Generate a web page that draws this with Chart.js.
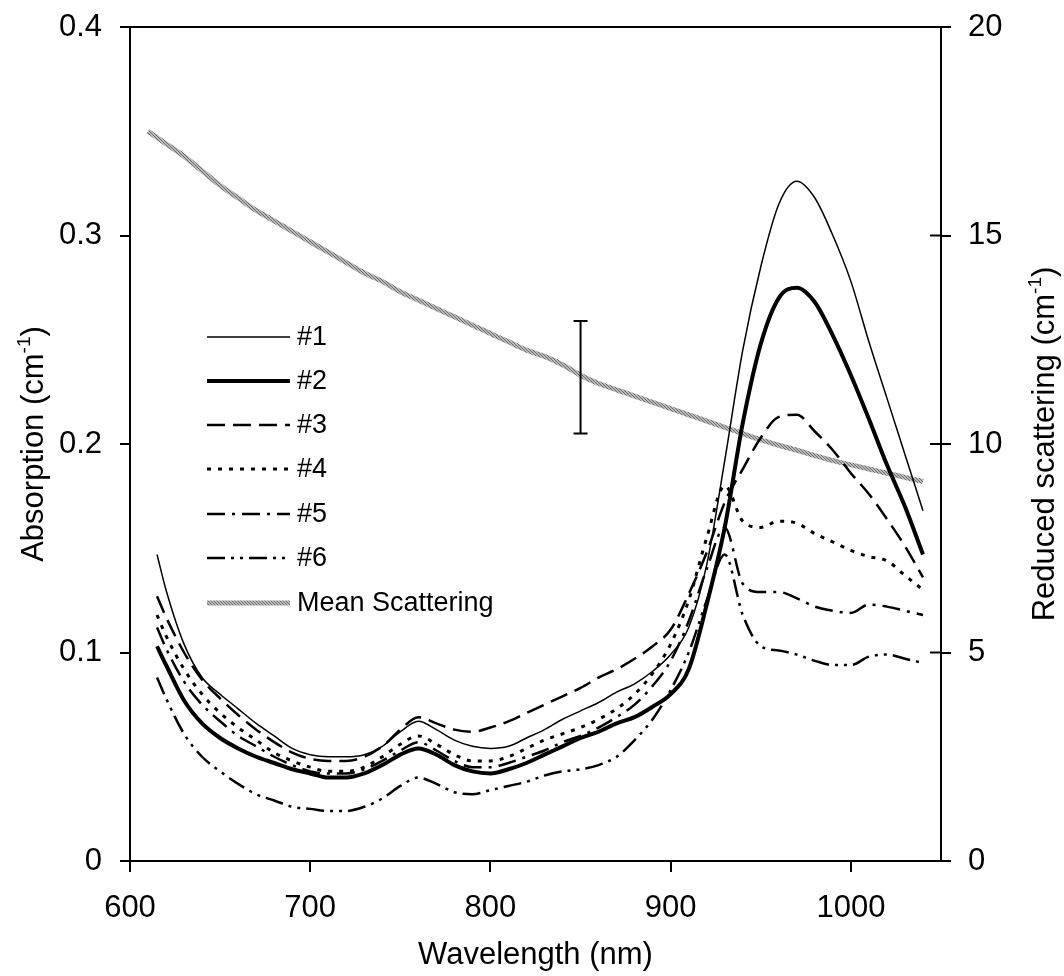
<!DOCTYPE html>
<html>
<head>
<meta charset="utf-8">
<script src="https://cdn.jsdelivr.net/npm/chart.js@4.4.0/dist/chart.umd.min.js"></script>
<style>
body { margin: 0; background: #fff; }
canvas { display: block; }
</style>
</head>
<body>
<canvas id="chart" width="1064" height="976"></canvas>
<script>
// absorption spectra, nm
const wavelengths = [615, 620, 630, 640, 650, 660, 670, 680, 690, 700, 710, 720, 730, 740, 750,
    760, 770, 780, 790, 800, 810, 820, 830, 840, 850, 860, 870, 880, 890, 900, 910, 920, 930,
    940, 950, 960, 970, 980, 990, 1000, 1010, 1020, 1030, 1040];

const abs1 = [0.147, 0.130, 0.104, 0.088, 0.080, 0.073, 0.066, 0.060, 0.054, 0.051, 0.050, 0.050,
    0.051, 0.055, 0.062, 0.067, 0.063, 0.058, 0.055, 0.054, 0.055, 0.059, 0.063, 0.068, 0.072,
    0.076, 0.081, 0.085, 0.091, 0.099, 0.112, 0.142, 0.192, 0.245, 0.285, 0.315, 0.326, 0.318,
    0.300, 0.278, 0.249, 0.222, 0.195, 0.168];
const abs2 = [0.103, 0.094, 0.077, 0.066, 0.059, 0.054, 0.050, 0.047, 0.044, 0.042, 0.040, 0.040,
    0.042, 0.046, 0.051, 0.054, 0.051, 0.046, 0.043, 0.042, 0.044, 0.047, 0.051, 0.055, 0.059,
    0.062, 0.066, 0.069, 0.074, 0.080, 0.092, 0.123, 0.160, 0.210, 0.248, 0.270, 0.275, 0.268,
    0.252, 0.233, 0.212, 0.190, 0.170, 0.147];
const abs3 = [0.127, 0.117, 0.100, 0.087, 0.078, 0.070, 0.063, 0.057, 0.052, 0.049, 0.048, 0.048,
    0.050, 0.055, 0.063, 0.069, 0.066, 0.063, 0.062, 0.064, 0.067, 0.071, 0.075, 0.079, 0.083,
    0.088, 0.092, 0.097, 0.103, 0.111, 0.128, 0.148, 0.172, 0.188, 0.203, 0.213, 0.214, 0.206,
    0.197, 0.186, 0.176, 0.164, 0.151, 0.136];
const abs4 = [0.118, 0.108, 0.092, 0.080, 0.071, 0.064, 0.058, 0.052, 0.048, 0.045, 0.043, 0.043,
    0.045, 0.050, 0.056, 0.060, 0.056, 0.051, 0.048, 0.048, 0.050, 0.054, 0.058, 0.061, 0.064,
    0.068, 0.073, 0.080, 0.090, 0.104, 0.125, 0.155, 0.180, 0.163, 0.160, 0.163, 0.162, 0.157,
    0.153, 0.149, 0.146, 0.144, 0.137, 0.130];
const abs5 = [0.112, 0.102, 0.086, 0.075, 0.067, 0.060, 0.055, 0.050, 0.046, 0.043, 0.042, 0.042,
    0.044, 0.048, 0.053, 0.057, 0.053, 0.048, 0.045, 0.045, 0.047, 0.050, 0.053, 0.057, 0.060,
    0.064, 0.069, 0.075, 0.084, 0.096, 0.115, 0.140, 0.160, 0.133, 0.129, 0.129, 0.126, 0.122,
    0.120, 0.119, 0.123, 0.122, 0.120, 0.118];
const abs6 = [0.088, 0.078, 0.061, 0.050, 0.043, 0.037, 0.032, 0.029, 0.026, 0.025, 0.024, 0.024,
    0.026, 0.030, 0.036, 0.040, 0.037, 0.033, 0.032, 0.034, 0.036, 0.038, 0.041, 0.043, 0.044,
    0.046, 0.050, 0.058, 0.068, 0.082, 0.100, 0.125, 0.147, 0.118, 0.103, 0.101, 0.099, 0.096,
    0.094, 0.094, 0.098, 0.099, 0.097, 0.095];

// mean reduced scattering, right axis
const scatWavelengths = [610, 620, 630, 640, 650, 660, 670, 680, 690, 700, 710, 720, 730, 740,
    750, 760, 770, 780, 790, 800, 810, 820, 830, 840, 850, 860, 870, 880, 890, 900, 910, 920,
    930, 940, 950, 960, 970, 980, 990, 1000, 1010, 1020, 1030, 1040];
const meanScattering = [17.5, 17.2, 16.9, 16.55, 16.2, 15.9, 15.6, 15.35, 15.1, 14.85, 14.6,
    14.35, 14.1, 13.9, 13.65, 13.45, 13.25, 13.05, 12.85, 12.65, 12.45, 12.25, 12.1, 11.9, 11.65,
    11.45, 11.3, 11.15, 11.0, 10.85, 10.7, 10.55, 10.4, 10.25, 10.1, 9.97, 9.85, 9.72, 9.6, 9.5,
    9.4, 9.3, 9.2, 9.1];

// error bar on the scattering
const errWavelength = 850;
const errLow = 10.25;
const errHigh = 12.95;

const seriesNames = ["#1", "#2", "#3", "#4", "#5", "#6", "Mean Scattering"];

const FONT = "'Liberation Sans', Arial, sans-serif";

// grey textured stroke for the scattering line
const pc = document.createElement("canvas");
pc.width = 3;
pc.height = 3;
const pctx = pc.getContext("2d");
pctx.fillStyle = "#bababa";
pctx.fillRect(0, 0, 3, 3);
pctx.fillStyle = "#6e6e6e";
pctx.fillRect(0, 0, 1, 1);
pctx.fillRect(1, 1, 1, 1);
pctx.fillRect(2, 2, 1, 1);
const scatPattern = pctx.createPattern(pc, "repeat");

const styles = [
    { width: 1.5, dash: [] },
    { width: 4, dash: [] },
    { width: 2.5, dash: [18, 8] },
    { width: 3, dash: [4, 7] },
    { width: 2.5, dash: [18, 7, 3, 7] },
    { width: 2.5, dash: [18, 6, 3, 6, 3, 6] }
];

const absSeries = [abs1, abs2, abs3, abs4, abs5, abs6];

const datasets = absSeries.map((vals, i) => ({
    label: seriesNames[i],
    data: wavelengths.map((w, j) => ({ x: w, y: vals[j] })),
    yAxisID: "y",
    borderColor: "#000",
    borderWidth: styles[i].width,
    borderDash: styles[i].dash,
    pointRadius: 0,
    cubicInterpolationMode: "monotone",
    fill: false,
    order: 1
}));

datasets.push({
    label: seriesNames[6],
    data: scatWavelengths.map((w, j) => ({ x: w, y: meanScattering[j] })),
    yAxisID: "y2",
    borderColor: scatPattern,
    borderWidth: 5,
    pointRadius: 0,
    tension: 0.3,
    fill: false,
    order: 2
});

function drawTitle(ctx, cx, cy, rot, main, sup, tail, size) {
    ctx.save();
    ctx.translate(cx, cy);
    ctx.rotate(rot);
    ctx.fillStyle = "#000";
    ctx.textBaseline = "alphabetic";
    ctx.textAlign = "left";
    const f = size + "px " + FONT;
    const fs = Math.round(size * 0.6) + "px " + FONT;
    ctx.font = f;
    const w1 = ctx.measureText(main).width;
    const w3 = tail ? ctx.measureText(tail).width : 0;
    ctx.font = fs;
    const w2 = sup ? ctx.measureText(sup).width : 0;
    let x = -(w1 + w2 + w3) / 2;
    const base = size * 0.36;
    ctx.font = f;
    ctx.fillText(main, x, base);
    x += w1;
    if (sup) {
        ctx.font = fs;
        ctx.fillText(sup, x, base - size * 0.42);
        x += w2;
    }
    if (tail) {
        ctx.font = f;
        ctx.fillText(tail, x, base);
    }
    ctx.restore();
}

const extras = {
    id: "extras",
    afterDraw(chart) {
        const ctx = chart.ctx;
        const area = chart.chartArea;
        const xs = chart.scales.x;
        const y2 = chart.scales.y2;

        ctx.save();
        ctx.strokeStyle = "#000";
        ctx.lineWidth = 2;
        ctx.setLineDash([]);

        // top frame
        ctx.beginPath();
        ctx.moveTo(area.left, area.top);
        ctx.lineTo(area.right, area.top);
        ctx.stroke();

        // right axis ticks cross into the plot
        y2.ticks.forEach(t => {
            const py = y2.getPixelForValue(t.value);
            ctx.beginPath();
            ctx.moveTo(area.right - 11, py);
            ctx.lineTo(area.right, py);
            ctx.stroke();
        });

        // error bar
        const ex = xs.getPixelForValue(errWavelength);
        const eTop = y2.getPixelForValue(errHigh);
        const eBot = y2.getPixelForValue(errLow);
        ctx.beginPath();
        ctx.moveTo(ex, eTop);
        ctx.lineTo(ex, eBot);
        ctx.moveTo(ex - 7, eTop);
        ctx.lineTo(ex + 7, eTop);
        ctx.moveTo(ex - 7, eBot);
        ctx.lineTo(ex + 7, eBot);
        ctx.stroke();

        // legend
        const lx0 = 207, lx1 = 290, tx = 297;
        const rowY = [337, 381, 425, 469, 514, 558, 603];
        ctx.font = "27px " + FONT;
        ctx.textBaseline = "middle";
        ctx.fillStyle = "#000";
        seriesNames.forEach((name, i) => {
            const y = rowY[i];
            ctx.beginPath();
            if (i < 6) {
                ctx.strokeStyle = "#000";
                ctx.lineWidth = styles[i].width;
                ctx.setLineDash(styles[i].dash);
            } else {
                ctx.strokeStyle = scatPattern;
                ctx.lineWidth = 5;
                ctx.setLineDash([]);
            }
            ctx.moveTo(lx0, y);
            ctx.lineTo(lx1, y);
            ctx.stroke();
            ctx.fillText(name, tx, y + 1);
        });
        ctx.restore();

        // axis titles
        drawTitle(ctx, (area.left + area.right) / 2, 953, 0, "Wavelength (nm)", "", "", 31);
        drawTitle(ctx, 32, (area.top + area.bottom) / 2, -Math.PI / 2, "Absorption (cm", "-1", ")", 31);
        drawTitle(ctx, 1043, (area.top + area.bottom) / 2, -Math.PI / 2, "Reduced scattering (cm", "-1", ")", 31);
    }
};

// fixed plot box: left 130, right 941, top 27, bottom 861
function fixY(width) {
    return s => {
        s.width = width;
        s.paddingTop = 0;
        s.paddingBottom = 0;
    };
}

new Chart(document.getElementById("chart"), {
    type: "line",
    data: { datasets: datasets },
    options: {
        responsive: false,
        animation: false,
        devicePixelRatio: 1,
        layout: { padding: { top: 27, left: 0, right: 0, bottom: 0 } },
        plugins: {
            legend: { display: false },
            tooltip: { enabled: false }
        },
        scales: {
            x: {
                type: "linear",
                min: 600,
                max: 1050,
                afterFit: s => {
                    s.height = 115;
                    s.paddingLeft = 0;
                    s.paddingRight = 0;
                },
                ticks: {
                    stepSize: 100,
                    includeBounds: false,
                    color: "#000",
                    font: { family: FONT, size: 31 },
                    padding: 18,
                    maxRotation: 0,
                    callback: v => String(v)
                },
                grid: { drawOnChartArea: false, tickLength: 11, color: "#000", lineWidth: 2 },
                border: { color: "#000", width: 2 }
            },
            y: {
                position: "left",
                min: 0,
                max: 0.4,
                afterFit: fixY(130),
                ticks: {
                    stepSize: 0.1,
                    color: "#000",
                    font: { family: FONT, size: 31 },
                    padding: 18,
                    callback: v => String(Math.round(v * 10) / 10)
                },
                grid: { drawOnChartArea: false, tickLength: 10, color: "#000", lineWidth: 2 },
                border: { color: "#000", width: 2 }
            },
            y2: {
                position: "right",
                min: 0,
                max: 20,
                afterFit: fixY(123),
                ticks: {
                    stepSize: 5,
                    color: "#000",
                    font: { family: FONT, size: 31 },
                    padding: 17,
                    callback: v => String(v)
                },
                grid: { drawOnChartArea: false, tickLength: 10, color: "#000", lineWidth: 2 },
                border: { color: "#000", width: 2 }
            }
        }
    },
    plugins: [extras]
});
</script>
</body>
</html>
